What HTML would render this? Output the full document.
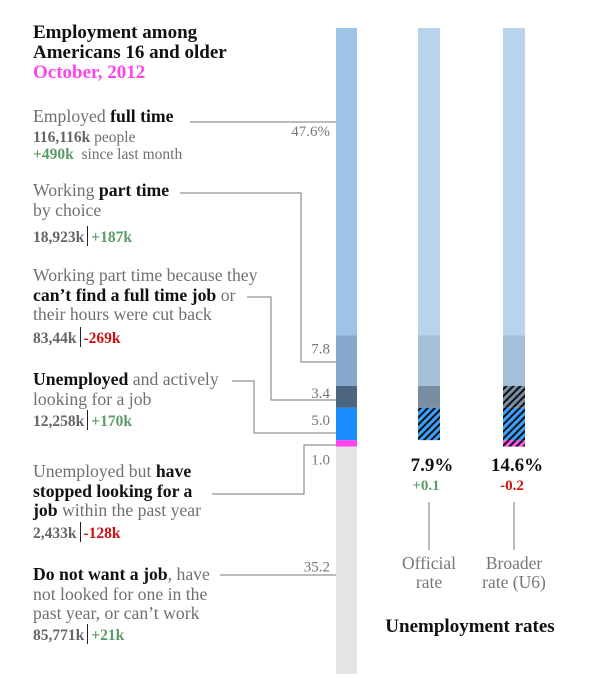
<!DOCTYPE html>
<html><head><meta charset="utf-8">
<style>
body{margin:0;width:600px;height:678px;background:#fff;overflow:hidden;position:relative;font-family:"Liberation Serif",serif;}
.t{position:absolute;white-space:nowrap;color:#707070;font-size:17.7px;line-height:19.5px;}
.b{color:#111;font-weight:bold;}
.n{color:#666;font-weight:bold;font-size:15.5px;}
.g{color:#5a9a68;font-weight:bold;font-size:15.5px;}
.r{color:#d01010;font-weight:bold;font-size:15.5px;}
.sm{font-size:15.5px;}
.sep{border-left:1.5px solid #222;margin:0 3px;}
</style></head><body>
<div class="t b" style="left:33px;top:23px;font-size:19px;line-height:20px">Employment among<br>Americans 16 and older</div>
<div class="t" style="left:33px;top:63px;font-size:19px;color:#ff44ee;font-weight:bold">October, 2012</div>

<div class="t" style="left:33px;top:107px">Employed <span class="b">full time</span></div>
<div class="t sm" style="left:33px;top:128px"><span class="n">116,116k</span> people</div>
<div class="t sm" style="left:33px;top:145px"><span class="g">+490k</span>&nbsp; since last month</div>

<div class="t" style="left:33px;top:181px">Working <span class="b">part time</span><br>by choice</div>
<div class="t" style="left:33px;top:227px"><span class="n">18,923k</span><span class="sep"></span><span class="g">+187k</span></div>

<div class="t" style="left:33px;top:266px">Working part time because they<br><span class="b">can’t find a full time job</span> or<br>their hours were cut back</div>
<div class="t" style="left:33px;top:328px"><span class="n">83,44k</span><span class="sep"></span><span class="r">-269k</span></div>

<div class="t" style="left:33px;top:370px"><span class="b">Unemployed</span> and actively<br>looking for a job</div>
<div class="t" style="left:33px;top:411px"><span class="n">12,258k</span><span class="sep"></span><span class="g">+170k</span></div>

<div class="t" style="left:33px;top:462px">Unemployed but <span class="b">have</span><br><span class="b">stopped looking for a</span><br><span class="b">job</span> within the past year</div>
<div class="t" style="left:33px;top:523px"><span class="n">2,433k</span><span class="sep"></span><span class="r">-128k</span></div>

<div class="t" style="left:33px;top:565px"><span class="b">Do not want a job</span>, have<br>not looked for one in the<br>past year, or can’t work</div>
<div class="t" style="left:33px;top:625px"><span class="n">85,771k</span><span class="sep"></span><span class="g">+21k</span></div>

<svg width="600" height="678" style="position:absolute;left:0;top:0" id="chart">
<defs>
<pattern id="hb" width="5" height="5" patternUnits="userSpaceOnUse" patternTransform="rotate(45)"><rect width="5" height="5" fill="#3aa0ff"/><rect width="2" height="5" fill="#111"/></pattern>
<pattern id="hd" width="5" height="5" patternUnits="userSpaceOnUse" patternTransform="rotate(45)"><rect width="5" height="5" fill="#7a8ea2"/><rect width="2" height="5" fill="#111"/></pattern>
<pattern id="hp" width="5" height="5" patternUnits="userSpaceOnUse" patternTransform="rotate(45)"><rect width="5" height="5" fill="#ff55ee"/><rect width="2" height="5" fill="#111"/></pattern>
</defs>
<g id="bars"></g>
<g fill="none" stroke="#777" stroke-width="1">
<path d="M190 122H336"/>
<path d="M180 193H301V362H336"/>
<path d="M247 297H271V400H336"/>
<path d="M232 381H254V433H336"/>
<path d="M336 445H304V494H212"/>
<path d="M220 575H336"/>
<path d="M429 502V550"/>
<path d="M514 502V550"/>
</g>
<g id="vals" font-family="Liberation Serif" font-size="15" fill="#777" text-anchor="end"></g>
<text x="432" y="471" text-anchor="middle" font-size="19" font-weight="bold" fill="#111">7.9%</text>
<text x="517" y="471" text-anchor="middle" font-size="19" font-weight="bold" fill="#111">14.6%</text>
<text x="426" y="490" text-anchor="middle" font-size="15" font-weight="bold" fill="#5a9a68">+0.1</text>
<text x="512" y="490" text-anchor="middle" font-size="15" font-weight="bold" fill="#d01010">-0.2</text>
<text x="429" y="569" text-anchor="middle" font-size="17.5" fill="#777">Official</text>
<text x="429" y="588" text-anchor="middle" font-size="17.5" fill="#777">rate</text>
<text x="514" y="569" text-anchor="middle" font-size="17.5" fill="#777">Broader</text>
<text x="514" y="588" text-anchor="middle" font-size="17.5" fill="#777">rate (U6)</text>
<text x="470" y="632" text-anchor="middle" font-size="19" font-weight="bold" fill="#111">Unemployment rates</text>
</svg>
<script>
const categories=["full-time","part-time-choice","part-time-econ","unemployed","stopped-looking","not-want-job"];
const shares=[47.6,7.8,3.4,5.0,1.0,35.2];
const valueLabels=["47.6%","7.8","3.4","5.0","1.0","35.2"];
const mainColors=["#9dc3e6","#86a9cb","#4d6680","#1a8cff","#ff44ee","#e4e4e4"];
const officialFills=["#b8d4ec","#a4bfd8","#7a8ea2","url(#hb)",null,null];
const broaderFills=["#b8d4ec","#a4bfd8","url(#hd)","url(#hb)","url(#hp)",null];
const top0=28,bottom0=674;
const total=shares.reduce((a,b)=>a+b,0);
const y=v=>top0+(v/total)*(bottom0-top0);
const ns="http://www.w3.org/2000/svg";
const bars=document.getElementById('bars'),vals=document.getElementById('vals');
const labelOffsets=[108,18,12,17,18,125];
let cum=0;
shares.forEach((s,i)=>{
  const y0=y(cum),y1=y(cum+s);
  [[336,21,mainColors[i],'main'],[418,22,officialFills[i],'official'],[503,22,broaderFills[i],'broader']].forEach(([x,w,f,k])=>{
    if(!f)return;
    const r=document.createElementNS(ns,'rect');
    r.setAttribute('x',x);r.setAttribute('y',y0);r.setAttribute('width',w);r.setAttribute('height',y1-y0);r.setAttribute('fill',f);
    
    
    bars.appendChild(r);
  });
  const t=document.createElementNS(ns,'text');
  t.setAttribute('x',330);
  t.setAttribute('y',(i==4?y1:y0)+labelOffsets[i]);
  t.textContent=valueLabels[i];
  
  
  vals.appendChild(t);
  cum+=s;
});
</script>
</body></html>
